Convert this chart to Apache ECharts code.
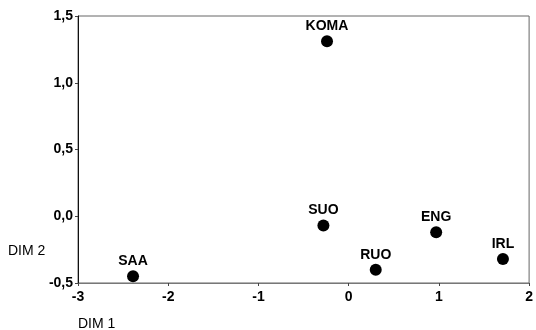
<!DOCTYPE html>
<html><head><meta charset="utf-8">
<script src="https://cdn.jsdelivr.net/npm/echarts@6/dist/echarts.min.js"></script>
<style>html,body{margin:0;padding:0;background:#fff}#c{width:536px;height:330px}</style>
</head><body><div id="c"></div>
<script>
var names = ['KOMA','SUO','ENG','RUO','IRL','SAA'];
var dim1 = [-0.24, -0.28, 0.97, 0.30, 1.71, -2.39];
var dim2 = [1.31, -0.07, -0.12, -0.40, -0.32, -0.45];
var xTicks = [-3,-2,-1,0,1,2];
var yTicks = [-0.5,0.0,0.5,1.0,1.5];

var font = '"Liberation Sans", Arial, sans-serif';
var data = names.map(function(n,i){return {name:n, value:[dim1[i], dim2[i]]};});
var chart = echarts.init(document.getElementById('c'));
chart.setOption({
  animation:false,
  backgroundColor:'#fff',
  grid:{left:78,right:4,top:16,bottom:47,show:true,borderColor:'#666',borderWidth:1},
  xAxis:{type:'value',min:-3,max:2,interval:1,
    axisLine:{show:true,onZero:false,lineStyle:{color:'#777'}},
    axisTick:{show:true,length:3,lineStyle:{color:'#444'}},
    splitLine:{show:false},
    axisLabel:{color:'#000',fontFamily:font,fontSize:14,fontWeight:'bold',margin:7,formatter:function(v){return String(v);}}
  },
  yAxis:{type:'value',min:-0.5,max:1.5,interval:0.5,
    axisLine:{show:true,onZero:false,lineStyle:{color:'#111'}},
    axisTick:{show:true,length:3,lineStyle:{color:'#444'}},
    splitLine:{show:false},
    axisLabel:{color:'#000',fontFamily:font,fontSize:14,fontWeight:'bold',margin:5,
      formatter:function(v){return v.toFixed(1).replace('.',',');}}
  },
  graphic:[
    {type:'text',left:8,top:244,style:{text:'DIM 2',fill:'#000',font:'14px '+font}},
    {type:'text',left:78,top:317,style:{text:'DIM 1',fill:'#000',font:'14px '+font}}
  ],
  series:[{type:'scatter',data:data,symbolSize:12,
    itemStyle:{color:'#000',opacity:1},
    label:{show:true,position:'top',distance:2,formatter:'{b}',color:'#000',fontFamily:font,fontSize:14,fontWeight:'bold'}
  }]
});
</script></body></html>
